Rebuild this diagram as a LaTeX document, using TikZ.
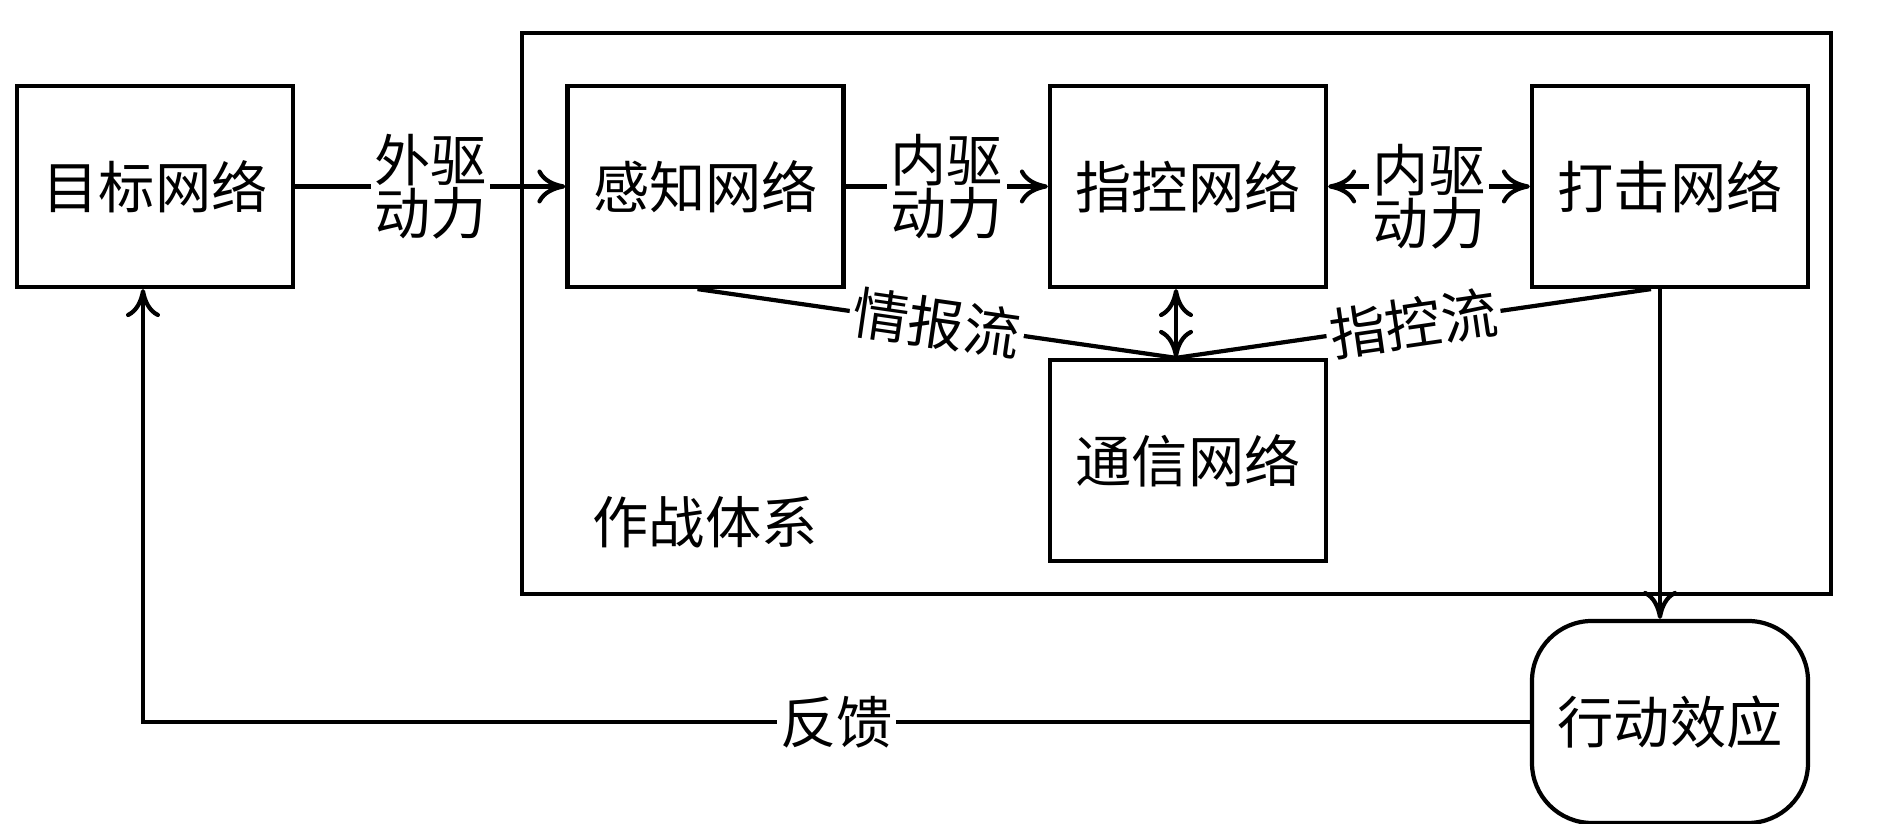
\documentclass[tikz,border=0pt]{standalone}
\usepackage{fontspec}
\newfontfamily\cjk{Noto Sans CJK SC}
\usepackage{tikz}
\usetikzlibrary{arrows.meta,positioning,calc}

\begin{document}
\begin{tikzpicture}[>={Computer Modern Rightarrow[length=2.8mm,width=3.4mm]},
   font=\cjk\fontsize{16}{15}\selectfont, line width=1.2pt,
   netbox/.style={draw,minimum width=2.76cm,minimum height=2.01cm,inner sep=0pt,align=center},
   lbl/.style={fill=white,inner sep=1pt,align=center}]
  \useasboundingbox (0,0) rectangle (18.9,8.24);
  % outer frame of the combat system
  \draw (5.22,2.30) rectangle (18.31,7.91);
  \node (sys) at (7.05,3.02) {作战体系};
  \node[netbox] (tgt) at (1.55,6.375) {目标网络};
  \node[netbox] (sense) at (7.055,6.375) {感知网络};
  \node[netbox] (cmd) at (11.88,6.375) {指控网络};
  \node[netbox] (strike) at (16.70,6.375) {打击网络};
  \node[netbox] (comm) at (11.88,3.635) {通信网络};
  \node[netbox,rounded corners=0.6cm,minimum height=2.02cm] (effect) at (16.70,1.02) {行动效应};
  % driving forces
  \draw[->] (tgt) -- node[lbl]{外驱\\动力} (sense);
  \draw[->] (sense) -- node[lbl]{内驱\\动力} (cmd);
  \draw[<->] (cmd) -- node[lbl,yshift=-1mm]{内驱\\动力} (strike);
  % information and command flows meet on the communication network
  \coordinate (J) at ($(comm.north)+(-0.12,0)$);
  \draw[<->] (J |- cmd.south) -- (J);
  \draw ($(sense.south)+(-0.08,0)$) -- node[lbl,sloped]{情报流} (J);
  \draw (J) -- node[lbl,sloped]{指控流} ($(strike.south)+(-0.19,0)$);
  \draw[->] ($(strike.south)+(-0.10,0)$) -- ($(effect.north)+(-0.10,0)$);
  % feedback loop
  \coordinate (fb) at ($(tgt.south)+(-0.12,0)$);
  \draw[->] (effect.west) -- node[lbl]{反馈} (fb |- effect.west) -- (fb);
\end{tikzpicture}
\end{document}
